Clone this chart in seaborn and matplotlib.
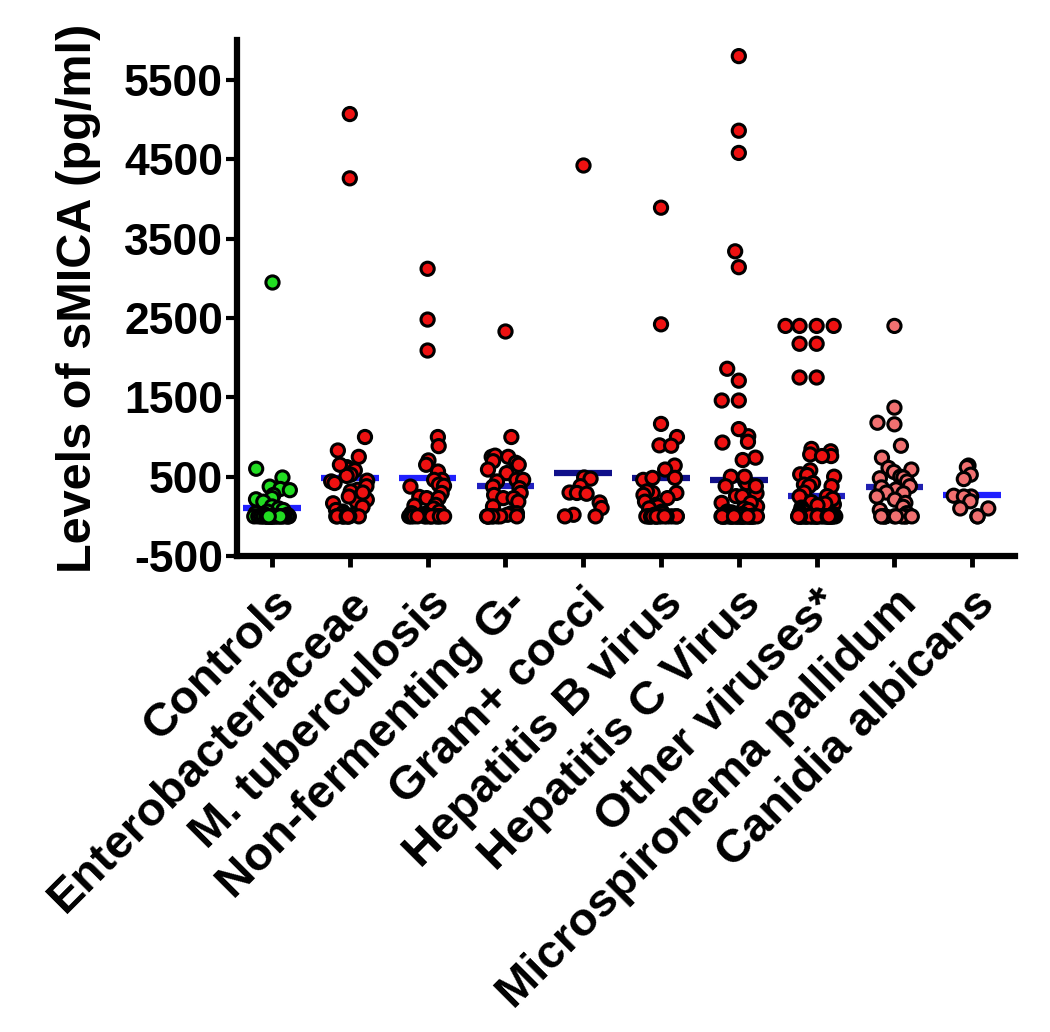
import numpy as np
import pandas as pd
import matplotlib
matplotlib.use("Agg")
import matplotlib.pyplot as plt
import seaborn as sns

# Datos (pg/ml)
groups = ["Controls", "Enterobacteriaceae", "M. tuberculosis", "Non-fermenting G-",
          "Gram+ cocci", "Hepatitis B virus", "Hepatitis C Virus", "Other viruses*",
          "Microspironema pallidum", "Canidia albicans"]

controls = [2950, 600, 490, 375, 345, 330, 270, 230, 215, 185, 125, 100, 80, 60,
            40, 30, 20, 10] + [0] * 30
entero = [5070, 4260, 1000, 830, 750, 620, 600, 580, 525, 510, 440, 420, 335, 315,
          230, 210, 185, 165, 60, 20, 650, 450, 380, 300, 250, 120, 80, 40] + [0] * 10
mtb = [3120, 2480, 2090, 1000, 885, 705, 650, 565, 460, 460, 400, 385, 375, 295,
       245, 230, 230, 145, 135, 100, 40, 20, 60, 30] + [0] * 14
nonferm = [2330, 1000, 750, 765, 750, 695, 675, 650, 590, 545, 460, 460, 440, 375,
           355, 295, 270, 230, 230, 185, 125, 40, 40, 20] + [0] * 10
gram = [4430, 490, 475, 380, 300, 295, 285, 175, 105, 20, 0, 0]
hepb = [3890, 2420, 1165, 1000, 895, 890, 640, 590, 485, 460, 485, 295, 315, 295,
        270, 230, 185, 145, 125, 100, 60, 40, 20] + [0] * 18
hepc = [5800, 4860, 4580, 3340, 3140, 1860, 1710, 1460, 1460, 1100, 1010, 930, 940,
        740, 710, 500, 440, 420, 500, 380, 290, 380, 255, 255, 170, 125, 170, 100,
        80, 60, 50, 40, 30, 20, 10] + [0] * 40
other = [2400, 2400, 2400, 2400, 2175, 2175, 1750, 1750, 850, 820, 780, 760, 760,
         580, 530, 520, 500, 420, 400, 380, 380, 300, 255, 200, 150, 120, 250, 220,
         180, 160, 140, 110, 90, 70, 60, 50, 40, 30, 20, 10] + [0] * 40
micro = [2400, 1370, 1160, 1180, 890, 740, 610, 590, 560, 500, 490, 480, 440, 380,
         365, 340, 300, 290, 250, 210, 170, 120, 80, 40] + [0] * 12
candida = [640, 620, 525, 470, 260, 250, 250, 190, 100, 100, 0, 0]

group_means = [110, 483, 483, 377, 550, 483, 462, 251, 365, 263]

point_colors = ["#22dd22", "#ee1111", "#ee1111", "#ee1111", "#ee1111", "#ee1111",
                "#ee1111", "#ee1111", "#f07070", "#f07070"]
line_colors = ["#2020ff", "#2020ff", "#2020ff", "#2020c0", "#10108a", "#10108a",
               "#10108a", "#2020c0", "#2020b0", "#2020ff"]

values = [controls, entero, mtb, nonferm, gram, hepb, hepc, other, micro, candida]
df = pd.DataFrame({
    "group": np.repeat(groups, [len(v) for v in values]),
    "value": np.concatenate(values),
})
palette = dict(zip(groups, point_colors))

# puntos aislados en fila (swarm), los densos con jitter
df_hi = df[df["value"] >= 1100]
df_lo = df[df["value"] < 1100]

sns.set_style("ticks")
plt.rcParams["font.family"] = ["Liberation Sans", "DejaVu Sans"]
plt.rcParams["font.weight"] = "bold"
plt.rcParams["axes.unicode_minus"] = False
for key in ["text.color", "axes.labelcolor", "xtick.color", "ytick.color"]:
    plt.rcParams[key] = "black"

np.random.seed(7)
fig = plt.figure(figsize=(10.5, 10.32), dpi=100)
ax = fig.add_axes([0.2257, 0.4612, 0.741, 0.4998])

for i, m in enumerate(group_means):
    ax.hlines(m, i - 0.37, i + 0.37, colors=line_colors[i], linewidth=4.5, zorder=0.5)

sns.stripplot(data=df_lo, x="group", y="value", hue="group", order=groups,
              hue_order=groups, palette=palette, jitter=0.24, size=9.5,
              linewidth=2.2, edgecolor="black", legend=False, ax=ax, zorder=2)
sns.swarmplot(data=df_hi, x="group", y="value", hue="group", order=groups,
              hue_order=groups, palette=palette, size=9.5, linewidth=2.2,
              edgecolor="black", legend=False, ax=ax, zorder=2)

ax.set_xlim(-0.45, 9.55)
ax.set_ylim(-500, 6000)
ax.set_yticks(np.arange(-500, 6000, 1000))
ax.set_xticks(range(len(groups)))
ax.set_xticklabels(groups, rotation=45, ha="right", rotation_mode="anchor",
                   fontsize=34, fontweight="bold")
ax.tick_params(axis="y", labelsize=32, length=8, width=3, pad=2)
ax.tick_params(axis="x", length=8, width=3.5, pad=10)
for lab in ax.get_yticklabels():
    lab.set_fontweight("bold")

ax.set_xlabel("")
ax.set_ylabel("Levels of sMICA (pg/ml)", fontsize=35, fontweight="bold")
ax.yaxis.set_label_coords(-0.175, 0.5)

sns.despine(ax=ax)
for side in ["left", "bottom"]:
    ax.spines[side].set_linewidth(4.5)
    ax.spines[side].set_color("black")

fig.savefig("out.png", dpi=100)
